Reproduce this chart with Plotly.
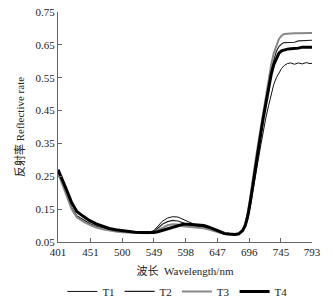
import plotly.graph_objects as go

wavelength = [401,408,415,422,430,440,450,460,470,480,490,500,510,520,530,540,
              549,555,562,570,578,586,594,602,610,618,626,634,642,650,658,666,674,
              680,686,690,694,698,702,706,710,714,718,722,726,730,734,738,742,746,750,
              755,760,766,772,778,784,790,793]

t1 = [0.27,0.235,0.20,0.165,0.14,0.125,0.112,0.102,0.095,0.09,0.086,0.083,0.081,0.080,0.079,0.079,
      0.085,0.098,0.113,0.123,0.127,0.126,0.12,0.112,0.105,0.10,0.096,0.092,0.087,0.081,0.076,0.073,0.072,
      0.074,0.082,0.095,0.12,0.16,0.21,0.26,0.30,0.345,0.39,0.43,0.465,0.50,0.53,0.55,0.565,0.578,0.587,
      0.593,0.595,0.591,0.595,0.592,0.596,0.593,0.594]
t2 = [0.265,0.23,0.19,0.155,0.13,0.117,0.106,0.098,0.092,0.088,0.084,0.082,0.080,0.079,0.078,0.078,
      0.082,0.092,0.104,0.112,0.116,0.114,0.108,0.103,0.10,0.098,0.095,0.09,0.085,0.079,0.075,0.073,0.072,
      0.074,0.083,0.10,0.13,0.18,0.24,0.29,0.34,0.39,0.44,0.49,0.535,0.575,0.605,0.63,0.645,0.653,0.657,
      0.658,0.657,0.658,0.662,0.663,0.663,0.664,0.664]
t3 = [0.26,0.225,0.185,0.15,0.125,0.112,0.102,0.094,0.089,0.085,0.082,0.080,0.079,0.077,0.076,0.077,
      0.08,0.086,0.095,0.101,0.104,0.103,0.098,0.097,0.096,0.094,0.092,0.088,0.083,0.078,0.074,0.072,0.071,
      0.074,0.085,0.105,0.14,0.19,0.25,0.30,0.35,0.40,0.45,0.50,0.55,0.59,0.625,0.65,0.668,0.678,0.683,
      0.684,0.685,0.685,0.685,0.686,0.686,0.686,0.686]
t4 = [0.27,0.24,0.205,0.17,0.143,0.128,0.115,0.105,0.097,0.091,0.087,0.084,0.082,0.080,0.079,0.078,
      0.079,0.081,0.085,0.09,0.095,0.10,0.104,0.104,0.103,0.102,0.10,0.095,0.088,0.081,0.076,0.074,0.073,
      0.075,0.085,0.10,0.13,0.175,0.23,0.28,0.33,0.38,0.43,0.475,0.52,0.56,0.59,0.61,0.625,0.632,0.635,
      0.637,0.638,0.638,0.64,0.643,0.643,0.643,0.643]

x_ticks = [401,451,500,549,598,647,696,745,793]
y_ticks = [0.05,0.15,0.25,0.35,0.45,0.55,0.65,0.75]

series = [("T1", t1, "#111111", 1), ("T2", t2, "#222222", 1.2),
          ("T3", t3, "#888888", 2), ("T4", t4, "#000000", 3)]

fig = go.Figure()
for name, vals, color, w in series:
    fig.add_trace(go.Scatter(x=wavelength, y=vals, mode="lines", name=name,
                             line=dict(color=color, width=w)))

font = "Liberation Serif, Times New Roman, Noto Sans CJK SC, serif"
fig.update_layout(
    width=333, height=304,
    margin=dict(l=58, r=21, t=12, b=62, autoexpand=False),
    paper_bgcolor="white", plot_bgcolor="white",
    font=dict(family=font, size=11, color="#222"),
    showlegend=True,
    legend=dict(orientation="h", x=0.47, xanchor="center", y=-0.215, yanchor="middle",
                font=dict(size=11), itemwidth=30, tracegroupgap=0),
)
fig.update_xaxes(range=[401, 793], tickvals=x_ticks, ticktext=[str(v) for v in x_ticks],
                 automargin=False,
                 showgrid=False, zeroline=False, showline=True, linecolor="#666", linewidth=1,
                 ticks="inside", ticklen=4, tickcolor="#666",
                 title=dict(text="波长  Wavelength/nm", font=dict(size=11), standoff=10))
fig.update_yaxes(range=[0.05, 0.75], tickvals=y_ticks, ticktext=[f"{v:.2f}" for v in y_ticks],
                 automargin=False,
                 showgrid=False, zeroline=False, showline=True, linecolor="#666", linewidth=1,
                 ticks="inside", ticklen=4, tickcolor="#666",
                 title=dict(text="反射率 Reflective rate", font=dict(size=11), standoff=8))

fig.write_html("out.html", config={"displayModeBar": False},
               post_script="document.body.style.margin='0';")
